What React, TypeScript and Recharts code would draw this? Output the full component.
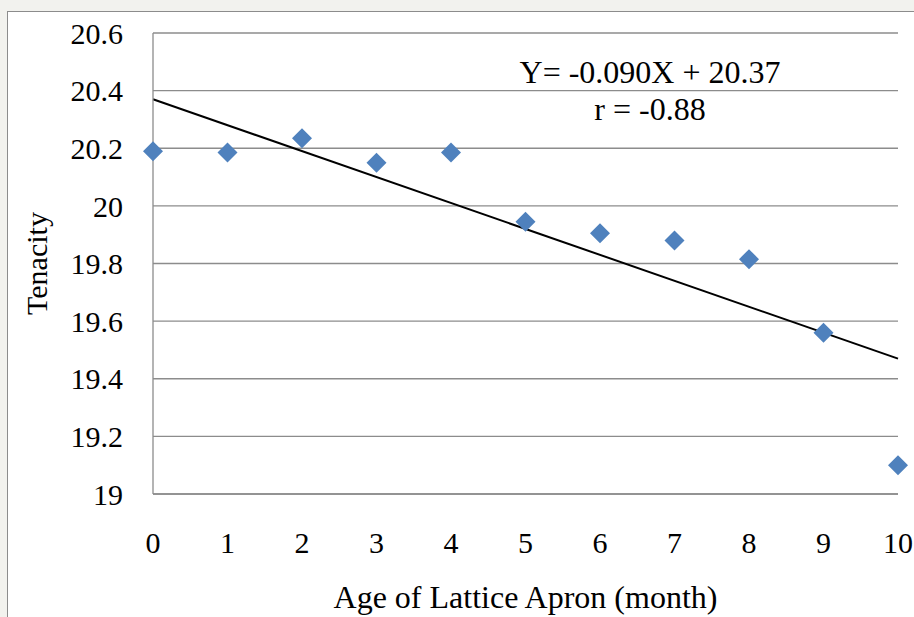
import React from "react";
import {
  ScatterChart,
  Scatter,
  XAxis,
  YAxis,
  CartesianGrid,
  ReferenceLine,
} from "recharts";

// Age of lattice apron (months) and measured tenacity
const ages = [0, 1, 2, 3, 4, 5, 6, 7, 8, 9, 10];
const tenacity = [20.19, 20.185, 20.235, 20.15, 20.185, 19.945, 19.905, 19.88, 19.815, 19.56, 19.1];

// Fitted trend: Y = -0.090X + 20.37
const trendStart = { x: 0, y: 20.37 };
const trendEnd = { x: 10, y: 19.47 };

const xTicks = [0, 1, 2, 3, 4, 5, 6, 7, 8, 9, 10];
const yTicks = [19, 19.2, 19.4, 19.6, 19.8, 20, 20.2, 20.4, 20.6];

const points = ages.map((a, i) => ({ x: a, y: tenacity[i] }));

const FONT = "'Liberation Serif', 'Times New Roman', serif";

const Diamond = (props: any) => {
  const { cx, cy } = props;
  const r = 10;
  return (
    <polygon
      points={`${cx},${cy - r} ${cx + r},${cy} ${cx},${cy + r} ${cx - r},${cy}`}
      fill="#4F81BD"
    />
  );
};

export default function App() {
  return (
    <div
      style={{
        position: "fixed",
        left: 0,
        top: 0,
        width: 914,
        height: 617,
        background: "#f2f2ee",
        overflow: "hidden",
        fontFamily: FONT,
      }}
    >
      <div
        style={{
          position: "absolute",
          left: 7,
          top: 11,
          width: 920,
          height: 620,
          background: "#fff",
          border: "1.5px solid #8c8c8c",
        }}
      />
      <div style={{ position: "absolute", left: 0, top: 0 }}>
        <ScatterChart
          width={914}
          height={617}
          margin={{ top: 33, right: 16, bottom: 0, left: 0 }}
        >
          <CartesianGrid horizontal vertical={false} stroke="#8c8c8c" strokeWidth={1.3} />
          <XAxis
            type="number"
            dataKey="x"
            domain={[0, 10]}
            ticks={xTicks}
            height={123}
            axisLine={{ stroke: "#8c8c8c", strokeWidth: 1.3 }}
            tickLine={false}
            tickSize={6}
            tickMargin={32}
            tick={{ fill: "#000", fontSize: 30, fontFamily: FONT }}
            label={{
              value: "Age of Lattice Apron (month)",
              position: "insideBottom",
              offset: 9,
              style: { fill: "#000", fontSize: 32, fontFamily: FONT },
            }}
          />
          <YAxis
            type="number"
            dataKey="y"
            domain={[19, 20.6]}
            ticks={yTicks}
            width={153}
            axisLine={{ stroke: "#8c8c8c", strokeWidth: 1.3 }}
            tickLine={false}
            tickSize={6}
            tickMargin={24}
            tickFormatter={(v: number) => String(+v.toFixed(1))}
            tick={{ fill: "#000", fontSize: 30, fontFamily: FONT }}
            label={{
              value: "Tenacity",
              angle: -90,
              position: "insideLeft",
              offset: 36,
              style: { fill: "#000", fontSize: 30, fontFamily: FONT, textAnchor: "middle" },
            }}
          />
          <ReferenceLine
            segment={[trendStart, trendEnd]}
            stroke="#000"
            strokeWidth={2}
            ifOverflow="visible"
          />
          <Scatter data={points} shape={Diamond} isAnimationActive={false} />
        </ScatterChart>
      </div>
      <div
        style={{
          position: "absolute",
          left: 450,
          width: 400,
          top: 54,
          textAlign: "center",
          fontSize: 32,
          lineHeight: "37px",
          color: "#000",
        }}
      >
        <div>Y= -0.090X + 20.37</div>
        <div>r = -0.88</div>
      </div>
    </div>
  );
}
